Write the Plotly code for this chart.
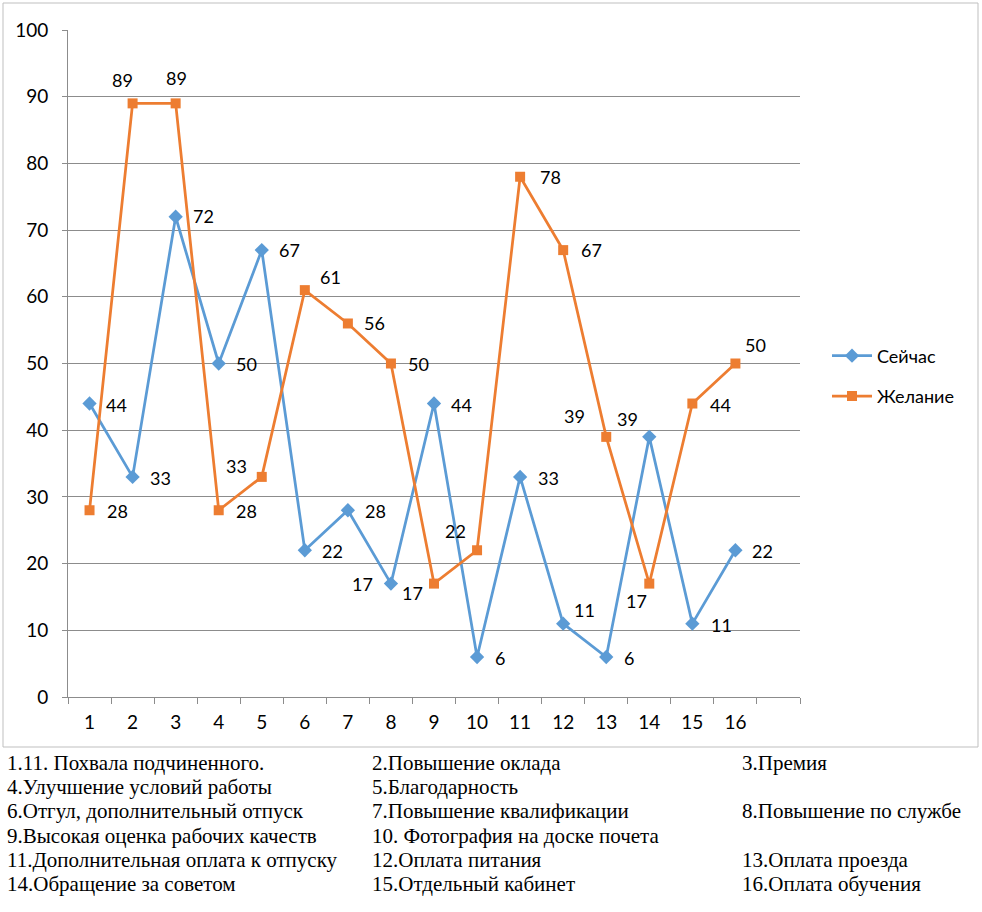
import plotly.graph_objects as go

# ---- data ----
categories = list(range(1, 17))
now_values = [44, 33, 72, 50, 67, 22, 28, 17, 44, 6, 33, 11, 6, 39, 11, 22]
wish_values = [28, 89, 89, 28, 33, 61, 56, 50, 17, 22, 78, 67, 39, 17, 44, 50]
series_names = ["Сейчас", "Желание"]
y_ticks = list(range(0, 101, 10))
notes = [
    ["1.11. Похвала подчиненного.", "2.Повышение оклада", "3.Премия"],
    ["4.Улучшение условий работы", "5.Благодарность", ""],
    ["6.Отгул, дополнительный отпуск", "7.Повышение квалификации", "8.Повышение по службе"],
    ["9.Высокая оценка рабочих качеств", "10. Фотография на доске почета", ""],
    ["11.Дополнительная оплата к отпуску", "12.Оплата питания", "13.Оплата проезда"],
    ["14.Обращение за советом", "15.Отдельный кабинет", "16.Оплата обучения"],
]

# ---- styles / label offsets (screen px: dx right, dy down) ----
now_off = [(27, 1), (28, 1), (28, -1), (28, 0), (28, 0), (28, 1), (28, 1), (-28, 0),
           (27, 1), (23, 1), (28, 1), (21, -14), (23, 1), (-75, -21), (29, 1), (27, 1)]
wish_off = [(28, 1), (-10, -23), (1, -25), (28, 1), (-25, -11), (26, -13), (27, 0), (28, 0),
            (-22, 9), (-22, -19), (30, 0), (28, 0), (21, -18), (-13, 17), (28, 1), (20, -19)]
BLUE = "#5B9BD5"
ORANGE = "#ED7D31"
GRID = "#8C8C8C"
W, H = 982, 912
L, R, T, B = 68, 800, 30, 697


def px(xp):
    return (xp - L) / (R - L)


def py(yp):
    return (B - yp) / (B - T)


fig = go.Figure()
fig.add_trace(go.Scatter(
    x=categories, y=now_values, name=series_names[0], mode="lines+markers",
    line=dict(color=BLUE, width=2.75),
    marker=dict(symbol="diamond", size=11, color=BLUE),
    legendgroup="a",
))
fig.add_trace(go.Scatter(
    x=categories, y=wish_values, name=series_names[1], mode="lines+markers",
    line=dict(color=ORANGE, width=2.75),
    marker=dict(symbol="square", size=10, color=ORANGE),
    legendgroup="b",
))

annotations = []
for vals, offs in ((now_values, now_off), (wish_values, wish_off)):
    for c, v, (dx, dy) in zip(categories, vals, offs):
        annotations.append(dict(
            x=c, y=v, xref="x", yref="y", text=str(v), showarrow=False,
            xshift=dx, yshift=-dy, xanchor="center", yanchor="middle",
            font=dict(family="Lato", size=18, color="black"),
        ))

row_y = [763, 787, 811, 836, 860, 884]
col_x = [5, 370, 740]
for r, row in enumerate(notes):
    for c, txt in enumerate(row):
        if not txt:
            continue
        annotations.append(dict(
            x=px(col_x[c]), y=py(row_y[r]), xref="paper", yref="paper",
            text=txt, showarrow=False, xanchor="left", yanchor="middle",
            font=dict(family="Liberation Serif", size=21, color="black"),
        ))

fig.add_shape(type="rect", xref="paper", yref="paper",
              x0=px(3), x1=px(978), y0=py(747), y1=py(3),
              line=dict(color="#BFBFBF", width=1), fillcolor="rgba(0,0,0,0)", layer="below")

fig.update_layout(
    width=W, height=H,
    margin=dict(l=L, r=W - R, t=T, b=H - B),
    paper_bgcolor="white", plot_bgcolor="white",
    font=dict(family="Lato", size=18, color="black"),
    annotations=annotations,
    showlegend=True,
    legend=dict(x=px(827), y=py(376), xanchor="left", yanchor="middle",
                font=dict(family="Lato", size=18, color="black"),
                bgcolor="rgba(0,0,0,0)", tracegroupgap=14, itemwidth=40),
    xaxis=dict(
        range=[0.5, 17.5], tickmode="array", tickvals=categories,
        ticktext=[str(c) for c in categories], ticks="",
        showgrid=False, zeroline=False, showline=True, linecolor=GRID, linewidth=1,
        tickfont=dict(family="Lato", size=19), ticklabelstandoff=8,
        minor=dict(tickmode="array", tickvals=[i + 0.5 for i in range(0, 18)],
                   ticks="outside", ticklen=6, tickcolor=GRID, tickwidth=1, showgrid=False),
    ),
    yaxis=dict(
        range=[0, 100], tickmode="array", tickvals=y_ticks,
        ticks="outside", ticklen=5, tickcolor=GRID,
        showgrid=True, gridcolor=GRID, gridwidth=1, zeroline=False,
        showline=True, linecolor=GRID, linewidth=1,
        tickfont=dict(family="Lato", size=19), ticklabelstandoff=10,
    ),
)

fig.write_html("out.html")
